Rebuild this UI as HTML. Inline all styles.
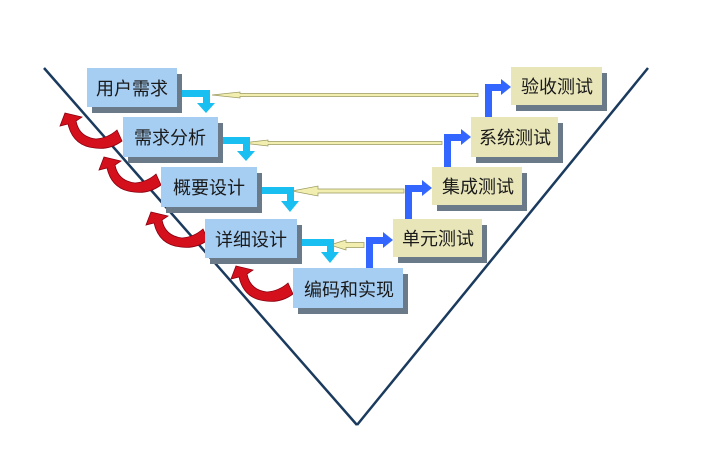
<!DOCTYPE html>
<html><head><meta charset="utf-8"><style>
body{margin:0;background:#fff;}
svg text{font-family:"Liberation Sans","Noto Sans CJK SC",sans-serif;font-size:18px;fill:#1a1a1a;}
</style></head><body>
<svg width="720" height="457" viewBox="0 0 720 457" xmlns="http://www.w3.org/2000/svg">
<defs>
<g id="red">
<path d="M65,113 L82,117 L76,121 Q79,137 96,139 Q108,138 117,130 L122,141 Q110,150 95,148 Q73,146 68,124 L60,126 Z" fill="#d4101c" stroke="#8a0010" stroke-width="0.8"/>
</g>
</defs>
<line x1="44" y1="68" x2="357" y2="425" stroke="#1a3a5e" stroke-width="2.5"/>
<line x1="648" y1="68" x2="357" y2="425" stroke="#1a3a5e" stroke-width="2.5"/>

<g fill="#f2eeb0" stroke="#9a9a60" stroke-width="0.7">
<polygon points="212,95 240,92 240,93.5 478,93.5 478,96.5 240,96.5 240,98"/>
<polygon points="242,143 268,140 268,141.5 442,141.5 442,144.5 268,144.5 268,146"/>
<polygon points="292,191 318,186 318,189 404,189 404,193 318,193 318,196"/>
<polygon points="330,245 346,240 346,242.5 364,242.5 364,247.5 346,247.5 346,250"/>
</g>

<g fill="#19bff0">
<path d="M177,90 H210 V103 H215 L206,113 L197,103 H203 V97 H177 Z"/>
<path d="M218,137 H250 V151 H255 L246,161 L237,151 H243 V144 H218 Z"/>
<path d="M257,187 H294 V201 H299 L290,212 L281,201 H287 V194 H257 Z"/>
<path d="M297,239 H334 V252 H339 L330,263 L321,252 H327 V246 H297 Z"/>
</g>

<g fill="#3366ff">
<path d="M366,268 V237 H383 V232 L393,240 L383,248 V244 H373 V268 Z"/>
<path d="M405,219 V185 H422 V180 L432,188 L422,196 V192 H412 V219 Z"/>
<path d="M444,167 V134 H461 V129 L471,137 L461,145 V141 H451 V167 Z"/>
<path d="M485,117 V84 H501 V79 L511,87 L501,95 V91 H492 V117 Z"/>
</g>

<use href="#red"/>
<use href="#red" transform="translate(39,44)"/>
<use href="#red" transform="translate(86,99)"/>
<use href="#red" transform="translate(171,153)"/>

<g>
<rect x="92" y="74" width="90" height="39" fill="#6b7a88"/>
<rect x="87" y="68" width="90" height="39" fill="#a6cdf2"/>
<text x="132" y="95" text-anchor="middle">用户需求</text>
<rect x="128" y="123" width="95" height="40" fill="#6b7a88"/>
<rect x="123" y="117" width="95" height="40" fill="#a6cdf2"/>
<text x="170" y="144" text-anchor="middle">需求分析</text>
<rect x="166" y="173" width="96" height="40" fill="#6b7a88"/>
<rect x="161" y="167" width="96" height="40" fill="#a6cdf2"/>
<text x="209" y="194" text-anchor="middle">概要设计</text>
<rect x="210" y="225" width="92" height="39" fill="#6b7a88"/>
<rect x="205" y="219" width="92" height="39" fill="#a6cdf2"/>
<text x="251" y="246" text-anchor="middle">详细设计</text>
<rect x="298" y="274" width="110" height="40" fill="#6b7a88"/>
<rect x="293" y="268" width="110" height="40" fill="#a6cdf2"/>
<text x="349" y="296" text-anchor="middle">编码和实现</text>
</g>

<g>
<rect x="516" y="73" width="91" height="38" fill="#6b7a88"/>
<rect x="511" y="67" width="91" height="38" fill="#e8e5b8"/>
<text x="557" y="93" text-anchor="middle">验收测试</text>
<rect x="476" y="123" width="87" height="40" fill="#6b7a88"/>
<rect x="471" y="117" width="87" height="40" fill="#e8e5b8"/>
<text x="515" y="144" text-anchor="middle">系统测试</text>
<rect x="437" y="173" width="90" height="38" fill="#6b7a88"/>
<rect x="432" y="167" width="90" height="38" fill="#e8e5b8"/>
<text x="478" y="193" text-anchor="middle">集成测试</text>
<rect x="398" y="225" width="89" height="38" fill="#6b7a88"/>
<rect x="393" y="219" width="89" height="38" fill="#e8e5b8"/>
<text x="438" y="245" text-anchor="middle">单元测试</text>
</g>
</svg>
</body></html>
